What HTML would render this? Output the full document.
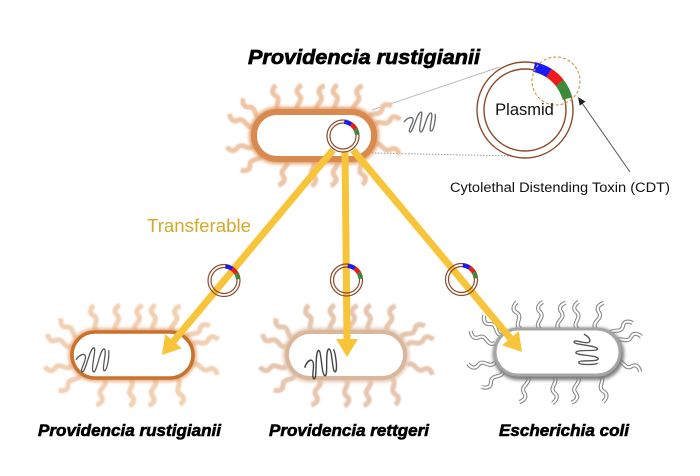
<!DOCTYPE html>
<html><head><meta charset="utf-8"><style>
html,body{margin:0;padding:0;background:#fff;}
svg{display:block;}
text{font-family:"Liberation Sans",Arial,sans-serif;}
</style></head><body>
<svg width="700" height="476" viewBox="0 0 700 476" xmlns="http://www.w3.org/2000/svg">
<defs>
  <filter id="b1" x="-20%" y="-20%" width="140%" height="140%"><feGaussianBlur stdDeviation="0.9"/></filter>
  <filter id="b2" x="-20%" y="-20%" width="140%" height="140%"><feGaussianBlur stdDeviation="1.8"/></filter>
  <path id="fl" d="M0,0 c-7,-6 6,-11 0,-17 c-5,-5 1,-9 3,-10" fill="none"/>
  <g id="flg" fill="none">
    <use href="#fl" transform="translate(8,6) rotate(-50)"/>
    <use href="#fl" transform="translate(26,0) rotate(-15)"/>
    <use href="#fl" transform="translate(45,0) rotate(0)"/>
    <use href="#fl" transform="translate(64,0) rotate(8)"/>
    <use href="#fl" transform="translate(83,0) rotate(-5)"/>
    <use href="#fl" transform="translate(101,0) rotate(10)"/>
    <use href="#fl" transform="translate(114,7) rotate(55)"/>
    <use href="#fl" transform="translate(8,41) rotate(225)"/>
    <use href="#fl" transform="translate(32,47) rotate(190)"/>
    <use href="#fl" transform="translate(58,47) rotate(175)"/>
    <use href="#fl" transform="translate(82,47) rotate(185)"/>
    <use href="#fl" transform="translate(104,46) rotate(165)"/>
    <use href="#fl" transform="translate(0,14) rotate(-70)"/>
    <use href="#fl" transform="translate(0,33) rotate(-100)"/>
    <use href="#fl" transform="translate(120,14) rotate(70)"/>
    <use href="#fl" transform="translate(120,33) rotate(105)"/>
  </g>
  <path id="chrom" d="M0,14 c3,-4 8,-6 9,-3 c1,4 -6,12 -3,13 c3,1 7,-20 11,-20 c3,0 -4,20 0,20 c3,0 6,-20 10,-19 c3,1 -3,18 0,18 c3,0 5,-14 4,-17" fill="none"/>
</defs>

<!-- Title -->
<text x="248" y="64" font-size="20" font-weight="bold" font-style="italic" fill="#000" stroke="#000" stroke-width="0.7" textLength="232" lengthAdjust="spacingAndGlyphs">Providencia rustigianii</text>

<!-- connector lines top -->
<line x1="372" y1="110" x2="500" y2="67" stroke="#bbb" stroke-width="1"/>
<line x1="372" y1="153" x2="513" y2="156" stroke="#999" stroke-width="1" stroke-dasharray="1.5,1.5"/>

<!-- Top bacterium -->
<g transform="translate(254,112)">
  <use href="#flg" stroke="#eec5a5" stroke-width="5" filter="url(#b1)"/>
  <rect x="0" y="0" width="120" height="47" rx="23" fill="#fff" stroke="#e2a070" stroke-width="10" filter="url(#b2)"/>
  <rect x="0" y="0" width="120" height="47" rx="23" fill="#fff" stroke="#d98a4e" stroke-width="6"/>
</g>
<!-- top chromosome -->
<use href="#chrom" transform="translate(404,108)" stroke="#666" stroke-width="1.3"/>

<!-- Large plasmid -->
<circle cx="525" cy="110" r="48" fill="none" stroke="#8b4a2b" stroke-width="1.4"/>
<circle cx="525" cy="110" r="41" fill="none" stroke="#8b4a2b" stroke-width="1.4"/>
<path d="M534.1,67 A44,44 0 0 1 549,73.1" fill="none" stroke="#1a1af5" stroke-width="10"/>
<path d="M549,73.1 A44,44 0 0 1 559.7,82.9" fill="none" stroke="#f01a1a" stroke-width="10"/>
<path d="M559.7,82.9 A44,44 0 0 1 567.5,98.6" fill="none" stroke="#3d8a3a" stroke-width="10"/>
<circle cx="556" cy="81" r="24" fill="none" stroke="#c9a04a" stroke-width="1.2" stroke-dasharray="3,2"/>
<text x="524.5" y="115" font-size="16.5" fill="#111" text-anchor="middle">Plasmid</text>

<!-- CDT arrow -->
<line x1="630" y1="172" x2="582" y2="103" stroke="#555" stroke-width="1"/>
<polygon points="578,97 585.5,101.6 579.7,105.6" fill="#222"/>
<text x="450" y="192" font-size="13.5" fill="#111" textLength="220" lengthAdjust="spacingAndGlyphs">Cytolethal Distending Toxin (CDT)</text>

<!-- Transferable -->
<text x="147" y="232" font-size="18.5" fill="#d4a82a" textLength="104" lengthAdjust="spacingAndGlyphs">Transferable</text>

<!-- Bottom-left bacterium -->
<g transform="translate(72,332)">
  <use href="#flg" stroke="#f2d0b4" stroke-width="5" filter="url(#b1)"/>
  <rect x="0" y="0" width="121" height="46" rx="23" fill="#fff" stroke="#e4a778" stroke-width="7" filter="url(#b2)"/>
  <rect x="0" y="0" width="121" height="46" rx="23" fill="#fff" stroke="#c8722e" stroke-width="3.5"/>
</g>
<use href="#chrom" transform="translate(76,343) scale(1.05,1.2)" stroke="#555" stroke-width="1.2"/>

<!-- Bottom-middle bacterium -->
<g transform="translate(287,332)">
  <use href="#flg" stroke="#e6c6ae" stroke-width="5" filter="url(#b1)"/>
  <rect x="0" y="0" width="118" height="46" rx="23" fill="#fff" stroke="#e3c5ae" stroke-width="8" filter="url(#b2)"/>
  <rect x="0" y="0" width="118" height="46" rx="23" fill="#fff" stroke="#d9b79c" stroke-width="4"/>
</g>
<use href="#chrom" transform="translate(303,345) rotate(-15 18 14) scale(1.05,1.3)" stroke="#444" stroke-width="1.3"/>

<!-- Bottom-right bacterium (E. coli) -->
<g transform="translate(495,329)">
  <use href="#flg" stroke="#8a8a8a" stroke-width="4.2"/>
  <use href="#flg" stroke="#fff" stroke-width="2"/>
  <rect x="1" y="2" width="125" height="46" rx="23" fill="none" stroke="#777" stroke-width="6" filter="url(#b2)"/>
  <rect x="0" y="0" width="125" height="46" rx="23" fill="#fff" stroke="#a5a5a5" stroke-width="3"/>
</g>
<use href="#chrom" transform="translate(570,334) rotate(80 16 16) scale(1,1.1)" stroke="#555" stroke-width="1.3"/>

<!-- Yellow arrows -->
<g stroke="#f8c43a" stroke-width="7" fill="none">
  <line x1="333" y1="150" x2="173.5" y2="341.2"/>
  <line x1="345" y1="150" x2="347" y2="339"/>
  <line x1="353" y1="150" x2="510.4" y2="338.2"/>
</g>
<g fill="#f8c43a">
  <polygon points="162,355 181.9,348.2 165.1,334.2"/>
  <polygon points="347,357 336,339 358,339"/>
  <polygon points="522,352 502,345.3 518.8,331.1"/>
</g>

<!-- Top small plasmid -->
<g transform="translate(343,136)">
  <circle r="16" fill="#fff" stroke="#8b4a2b" stroke-width="1.2"/>
  <circle r="13" fill="#fff" stroke="#8b4a2b" stroke-width="1.2"/>
  <path d="M1.22,-13.95 A14,14 0 0 1 8.03,-11.47" stroke="#1a1af5" stroke-width="4" fill="none"/>
  <path d="M8.03,-11.47 A14,14 0 0 1 12.12,-7" stroke="#f01a1a" stroke-width="4" fill="none"/>
  <path d="M12.12,-7 A14,14 0 0 1 13.95,-1.22" stroke="#3d8a3a" stroke-width="4" fill="none"/>
</g>

<!-- Small plasmids on arrows -->
<g transform="translate(224,280.5)">
  <circle r="16" fill="none" stroke="#8b4a2b" stroke-width="1.2"/>
  <circle r="13" fill="none" stroke="#8b4a2b" stroke-width="1.2"/>
  <path d="M1.22,-13.95 A14,14 0 0 1 8.03,-11.47" stroke="#1a1af5" stroke-width="4" fill="none"/>
  <path d="M8.03,-11.47 A14,14 0 0 1 12.12,-7" stroke="#f01a1a" stroke-width="4" fill="none"/>
  <path d="M12.12,-7 A14,14 0 0 1 13.95,-1.22" stroke="#3d8a3a" stroke-width="4" fill="none"/>
</g>
<g transform="translate(346.5,280)">
  <circle r="16" fill="none" stroke="#8b4a2b" stroke-width="1.2"/>
  <circle r="13" fill="none" stroke="#8b4a2b" stroke-width="1.2"/>
  <path d="M1.22,-13.95 A14,14 0 0 1 8.03,-11.47" stroke="#1a1af5" stroke-width="4" fill="none"/>
  <path d="M8.03,-11.47 A14,14 0 0 1 12.12,-7" stroke="#f01a1a" stroke-width="4" fill="none"/>
  <path d="M12.12,-7 A14,14 0 0 1 13.95,-1.22" stroke="#3d8a3a" stroke-width="4" fill="none"/>
</g>
<g transform="translate(461.5,279.5)">
  <circle r="16" fill="none" stroke="#8b4a2b" stroke-width="1.2"/>
  <circle r="13" fill="none" stroke="#8b4a2b" stroke-width="1.2"/>
  <path d="M1.22,-13.95 A14,14 0 0 1 8.03,-11.47" stroke="#1a1af5" stroke-width="4" fill="none"/>
  <path d="M8.03,-11.47 A14,14 0 0 1 12.12,-7" stroke="#f01a1a" stroke-width="4" fill="none"/>
  <path d="M12.12,-7 A14,14 0 0 1 13.95,-1.22" stroke="#3d8a3a" stroke-width="4" fill="none"/>
</g>

<!-- Bottom labels -->
<g font-size="17" font-weight="bold" font-style="italic" fill="#000" stroke="#000" stroke-width="0.6">
  <text x="38" y="436" textLength="183" lengthAdjust="spacingAndGlyphs">Providencia rustigianii</text>
  <text x="269" y="436" textLength="160" lengthAdjust="spacingAndGlyphs">Providencia rettgeri</text>
  <text x="499" y="436" textLength="130" lengthAdjust="spacingAndGlyphs">Escherichia coli</text>
</g>
</svg>
</body></html>
